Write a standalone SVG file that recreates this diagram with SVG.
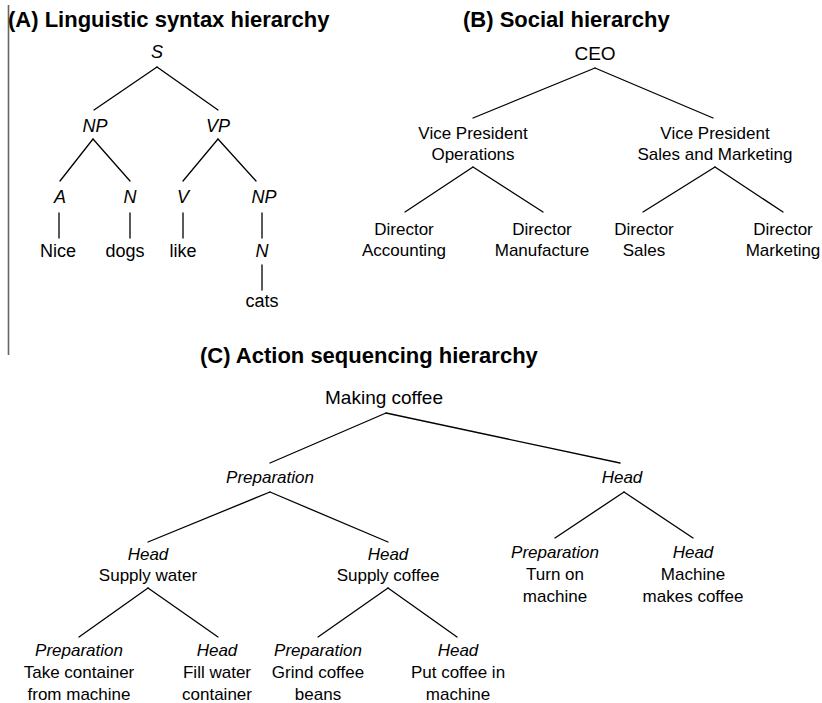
<svg xmlns="http://www.w3.org/2000/svg" width="822" height="703" viewBox="0 0 822 703">
  <style>
    .title { font-family: "Liberation Sans", Arial, sans-serif; font-weight: bold; font-size: 22px; fill: #000; }
    .a { font-family: "Liberation Sans", Arial, sans-serif; font-size: 18px; fill: #000; text-anchor: middle; }
    .t { font-family: "Liberation Sans", Arial, sans-serif; font-size: 17px; fill: #000; text-anchor: middle; }
    .root { font-family: "Liberation Sans", Arial, sans-serif; font-size: 19px; fill: #000; text-anchor: middle; }
    .i { font-style: italic; }
    .edge { stroke: #000; stroke-width: 1.3; fill: none; stroke-linecap: round; }
    .sep { stroke: #666; stroke-width: 1.6; }
  </style>
  <rect width="822" height="703" fill="#fff"/>

  <!-- panel divider -->
  <line class="sep" x1="8.5" y1="5" x2="8.5" y2="355"/>

  <!-- panel titles -->
  <text class="title" x="8" y="27">(A) Linguistic syntax hierarchy</text>
  <text class="title" x="463" y="27">(B) Social hierarchy</text>
  <text class="title" x="200" y="363">(C) Action sequencing hierarchy</text>

  <!-- connectors -->
  <g id="connectors">
    <!-- A: syntax tree -->
    <line class="edge" x1="157" y1="67" x2="94" y2="110"/>
    <line class="edge" x1="157" y1="67" x2="218" y2="110"/>
    <line class="edge" x1="93" y1="139" x2="60" y2="181"/>
    <line class="edge" x1="93" y1="139" x2="130" y2="181"/>
    <line class="edge" x1="218" y1="139" x2="183" y2="181"/>
    <line class="edge" x1="218" y1="139" x2="256" y2="181"/>
    <line class="edge" x1="59" y1="213" x2="59" y2="238"/>
    <line class="edge" x1="130" y1="213" x2="130" y2="238"/>
    <line class="edge" x1="183" y1="213" x2="183" y2="238"/>
    <line class="edge" x1="262" y1="213" x2="262" y2="238"/>
    <line class="edge" x1="262" y1="265" x2="262" y2="290"/>
    <!-- B: organisation chart -->
    <line class="edge" x1="595" y1="68" x2="473" y2="118"/>
    <line class="edge" x1="595" y1="68" x2="713" y2="118"/>
    <line class="edge" x1="473" y1="167" x2="405" y2="212"/>
    <line class="edge" x1="473" y1="167" x2="543" y2="212"/>
    <line class="edge" x1="715" y1="167" x2="643" y2="212"/>
    <line class="edge" x1="715" y1="167" x2="783" y2="212"/>
    <!-- C: action sequence -->
    <line class="edge" x1="386" y1="413" x2="270" y2="463"/>
    <line class="edge" x1="386" y1="413" x2="620" y2="463"/>
    <line class="edge" x1="270" y1="492" x2="148" y2="542"/>
    <line class="edge" x1="270" y1="492" x2="388" y2="542"/>
    <line class="edge" x1="148" y1="588" x2="79" y2="637"/>
    <line class="edge" x1="148" y1="588" x2="218" y2="637"/>
    <line class="edge" x1="388" y1="588" x2="318" y2="637"/>
    <line class="edge" x1="388" y1="588" x2="457" y2="637"/>
    <line class="edge" x1="624" y1="492" x2="555" y2="538"/>
    <line class="edge" x1="624" y1="492" x2="693" y2="538"/>
  </g>

  <!-- A: syntax nodes -->
  <g id="a-s"><text class="a i" x="157" y="58">S</text></g>
  <g id="a-np"><text class="a i" x="95" y="132">NP</text></g>
  <g id="a-vp"><text class="a i" x="218" y="132">VP</text></g>
  <g id="a-a"><text class="a i" x="60" y="203">A</text></g>
  <g id="a-n1"><text class="a i" x="130" y="203">N</text></g>
  <g id="a-v"><text class="a i" x="183" y="203">V</text></g>
  <g id="a-np2"><text class="a i" x="264" y="203">NP</text></g>
  <g id="a-nice"><text class="a" x="58" y="257">Nice</text></g>
  <g id="a-dogs"><text class="a" x="125" y="257">dogs</text></g>
  <g id="a-like"><text class="a" x="183" y="257">like</text></g>
  <g id="a-n2"><text class="a i" x="262" y="257">N</text></g>
  <g id="a-cats"><text class="a" x="262" y="307">cats</text></g>

  <!-- B: organisation nodes -->
  <g id="b-ceo"><text class="root" x="595" y="60">CEO</text></g>
  <g id="b-vp-ops">
    <text class="t" x="473" y="139">Vice President</text>
    <text class="t" x="473" y="160">Operations</text>
  </g>
  <g id="b-vp-sales">
    <text class="t" x="715" y="139">Vice President</text>
    <text class="t" x="715" y="160">Sales and Marketing</text>
  </g>
  <g id="b-dir-acc">
    <text class="t" x="404" y="235">Director</text>
    <text class="t" x="404" y="256">Accounting</text>
  </g>
  <g id="b-dir-man">
    <text class="t" x="542" y="235">Director</text>
    <text class="t" x="542" y="256">Manufacture</text>
  </g>
  <g id="b-dir-sales">
    <text class="t" x="644" y="235">Director</text>
    <text class="t" x="644" y="256">Sales</text>
  </g>
  <g id="b-dir-mkt">
    <text class="t" x="783" y="235">Director</text>
    <text class="t" x="783" y="256">Marketing</text>
  </g>

  <!-- C: action nodes -->
  <g id="c-root"><text class="root" x="384" y="404">Making coffee</text></g>
  <g id="c-prep"><text class="t i" x="270" y="483">Preparation</text></g>
  <g id="c-head"><text class="t i" x="622" y="483">Head</text></g>
  <g id="c-water">
    <text class="t i" x="148" y="560">Head</text>
    <text class="t" x="148" y="581">Supply water</text>
  </g>
  <g id="c-coffee">
    <text class="t i" x="388" y="560">Head</text>
    <text class="t" x="388" y="581">Supply coffee</text>
  </g>
  <g id="c-turn-on">
    <text class="t i" x="555" y="558">Preparation</text>
    <text class="t" x="555" y="580">Turn on</text>
    <text class="t" x="555" y="602">machine</text>
  </g>
  <g id="c-brew">
    <text class="t i" x="693" y="558">Head</text>
    <text class="t" x="693" y="580">Machine</text>
    <text class="t" x="693" y="602">makes coffee</text>
  </g>
  <g id="c-take">
    <text class="t i" x="79" y="656">Preparation</text>
    <text class="t" x="79" y="678">Take container</text>
    <text class="t" x="79" y="700">from machine</text>
  </g>
  <g id="c-fill">
    <text class="t i" x="217" y="656">Head</text>
    <text class="t" x="217" y="678">Fill water</text>
    <text class="t" x="217" y="700">container</text>
  </g>
  <g id="c-grind">
    <text class="t i" x="318" y="656">Preparation</text>
    <text class="t" x="318" y="678">Grind coffee</text>
    <text class="t" x="318" y="700">beans</text>
  </g>
  <g id="c-put">
    <text class="t i" x="458" y="656">Head</text>
    <text class="t" x="458" y="678">Put coffee in</text>
    <text class="t" x="458" y="700">machine</text>
  </g>
</svg>
